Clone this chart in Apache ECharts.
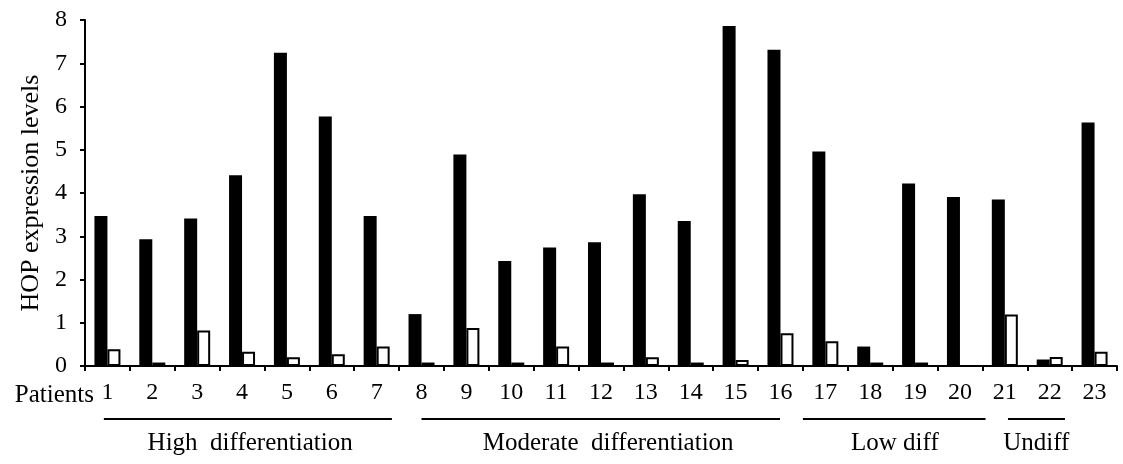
<!DOCTYPE html>
<html>
<head>
<meta charset="utf-8">
<script src="https://cdn.jsdelivr.net/npm/echarts@6/dist/echarts.min.js"></script>
<style>
html,body{margin:0;padding:0;background:#fff;}
#c{width:1123px;height:464px;}
</style>
</head>
<body>
<div id="c"></div>
<script>
// ---- data ----
const patients = ["1","2","3","4","5","6","7","8","9","10","11","12","13","14","15","16","17","18","19","20","21","22","23"];
const tumorValues = [3.47, 2.93, 3.41, 4.41, 7.24, 5.77, 3.47, 1.20, 4.89, 2.43, 2.74, 2.86, 3.97, 3.35, 7.86, 7.31, 4.96, 0.45, 4.22, 3.91, 3.85, 0.15, 5.63];
const adjacentValues = [0.39, 0.08, 0.82, 0.33, 0.20, 0.27, 0.45, 0.08, 0.88, 0.08, 0.45, 0.08, 0.20, 0.08, 0.14, 0.76, 0.57, 0.08, 0.08, 0, 1.19, 0.21, 0.33];
const yTicks = [0,1,2,3,4,5,6,7,8];
const groupNames = ["High  differentiation", "Moderate  differentiation", "Low diff", "Undiff"];
// group spans in category units (band edges), and label centres
const groupFrom = [0.42, 7.5, 16.0, 20.57];
const groupTo = [6.84, 15.49, 20.07, 21.84];
const groupMid = [3.68, 11.66, 18.05, 21.2];

const FONT = '"Liberation Serif", "Times New Roman", serif';

const chart = echarts.init(document.getElementById('c'), null, {renderer: 'canvas'});
const option = {
  animation: false,
  backgroundColor: '#fff',
  grid: {left: 85, right: 6, top: 20, bottom: 98, containLabel: false},
  xAxis: {
    type: 'category',
    data: patients,
    axisLine: {lineStyle: {color: '#000', width: 2}},
    axisTick: {show: true, length: 5, lineStyle: {color: '#000', width: 2}},
    axisLabel: {color: '#000', fontFamily: FONT, fontSize: 24, margin: 15, interval: 0}
  },
  yAxis: {
    type: 'value',
    min: yTicks[0],
    max: yTicks[yTicks.length - 1],
    interval: 1,
    axisLine: {show: true, lineStyle: {color: '#000', width: 2}},
    axisTick: {show: true, length: 5, lineStyle: {color: '#000', width: 2}},
    splitLine: {show: false},
    axisLabel: {color: '#000', fontFamily: FONT, fontSize: 24, margin: 18}
  },
  series: [
    {
      name: 'Tumor',
      type: 'bar',
      data: tumorValues,
      barWidth: 13,
      barGap: '0%',
      itemStyle: {color: '#000', borderColor: '#000', borderWidth: 0}
    },
    {
      name: 'Adjacent',
      type: 'bar',
      data: adjacentValues,
      barWidth: 13,
      barGap: '0%',
      itemStyle: {color: '#fff', borderColor: '#000', borderWidth: 2}
    }
  ]
};
chart.setOption(option);

// annotations positioned through the axis scales
const c0 = chart.convertToPixel({xAxisIndex: 0}, patients[0]);
const c1 = chart.convertToPixel({xAxisIndex: 0}, patients[1]);
const band = c1 - c0;
const edgeX = p => c0 + (p - 0.5) * band;
const axisY = chart.convertToPixel({yAxisIndex: 0}, 0);
const midY = chart.convertToPixel({yAxisIndex: 0}, 4);
const graphics = [];
groupNames.forEach((name, i) => {
  graphics.push({
    type: 'line',
    shape: {x1: edgeX(groupFrom[i]), y1: axisY + 53, x2: edgeX(groupTo[i]), y2: axisY + 53},
    style: {stroke: '#000', lineWidth: 2}
  });
  graphics.push({
    type: 'text',
    x: edgeX(groupMid[i]),
    y: axisY + 77,
    style: {text: name, fill: '#000', font: '25px ' + FONT, textAlign: 'center', textVerticalAlign: 'middle'}
  });
});
graphics.push({
  type: 'text',
  x: edgeX(0) + 9,
  y: axisY + 29,
  style: {text: 'Patients', fill: '#000', font: '25px ' + FONT, textAlign: 'right', textVerticalAlign: 'middle'}
});
graphics.push({
  type: 'text',
  x: 31,
  y: midY,
  rotation: Math.PI / 2,
  style: {text: 'HOP expression levels', fill: '#000', font: '26px ' + FONT, textAlign: 'center', textVerticalAlign: 'middle'}
});
chart.setOption({graphic: graphics});
</script>
</body>
</html>
